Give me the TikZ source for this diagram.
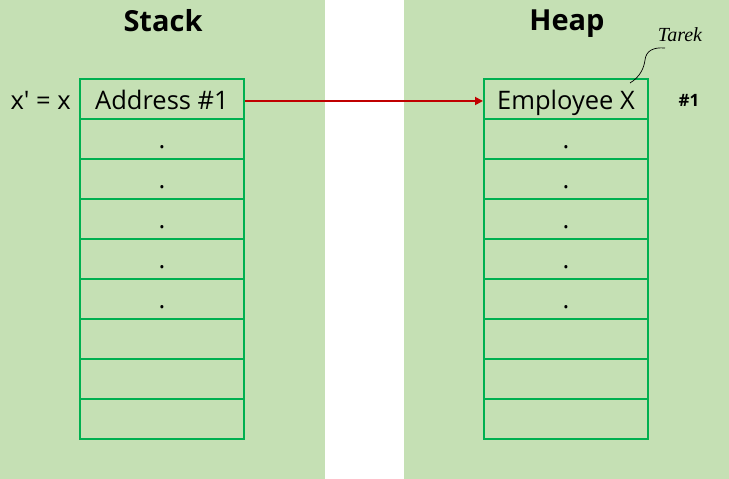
\documentclass[tikz,border=0pt]{standalone}
\usepackage{fontspec}
\setmainfont{Open Sans}
\usetikzlibrary{positioning, arrows.meta}
\definecolor{panel}{HTML}{C5E0B4}
\definecolor{cellline}{HTML}{00B050}
\definecolor{ptr}{HTML}{C00000}

\begin{document}
\begin{tikzpicture}[
    x=1pt, y=1pt,
    cell/.style={draw=cellline, line width=2pt, minimum width=164pt, minimum height=40pt, inner sep=0pt},
    celltext/.style={font=\fontsize{25.5}{26}\selectfont, inner sep=0pt, anchor=base},
    title/.style={font=\fontsize{29}{30}\selectfont\bfseries, inner sep=0pt, anchor=base},
]
\useasboundingbox (0, 0) rectangle (729, 479);
\fill[panel] (0, 0) rectangle (325, 479);
\fill[panel] (404, 0) rectangle (729, 479);

\foreach \i in {1,...,9} {
  \node[cell] (s\i) at (162, 479-99-40*\i+40) {};
  \node[cell] (h\i) at (566, 479-99-40*\i+40) {};
}
\foreach \i in {2,...,6} {
  \node[celltext] at ([yshift=-10pt]s\i.center) {.};
  \node[celltext] at ([yshift=-10pt]h\i.center) {.};
}
\node[celltext] (addr) at ([yshift=-11pt]s1.center) {Address \#1};
\node[celltext] (emp) at ([yshift=-11pt]h1.center) {Employee X};

\node[title] (stack) at (163, 479-32) {Stack};
\node[title] (heap) at (567, 479-31) {Heap};

\node[celltext, anchor=base east] (alias) at ([xshift=-8pt]addr.base -| s1.west) {x\textquotesingle{} = x};
\node[font=\fontsize{17}{18}\selectfont\bfseries, inner sep=0pt, anchor=base] (label) at (689, 479-107) {\#1};

\node[font=\fontsize{20}{22}\selectfont\itshape\fontspec{Liberation Serif}, inner sep=0pt, anchor=base] (note) at (680, 479-42) {Tarek};
\draw[line width=0.7pt] (630, 479-83) .. controls (640, 479-77) and (644, 479-68) .. (645, 479-60) .. controls (646, 479-51) and (653, 479-47) .. (665, 479-48);

\draw[ptr, line width=1.8pt, -{Triangle[length=8pt, width=8pt]}] ([yshift=-2pt]s1.east) -- ([yshift=-2pt]h1.west);
\end{tikzpicture}
\end{document}
